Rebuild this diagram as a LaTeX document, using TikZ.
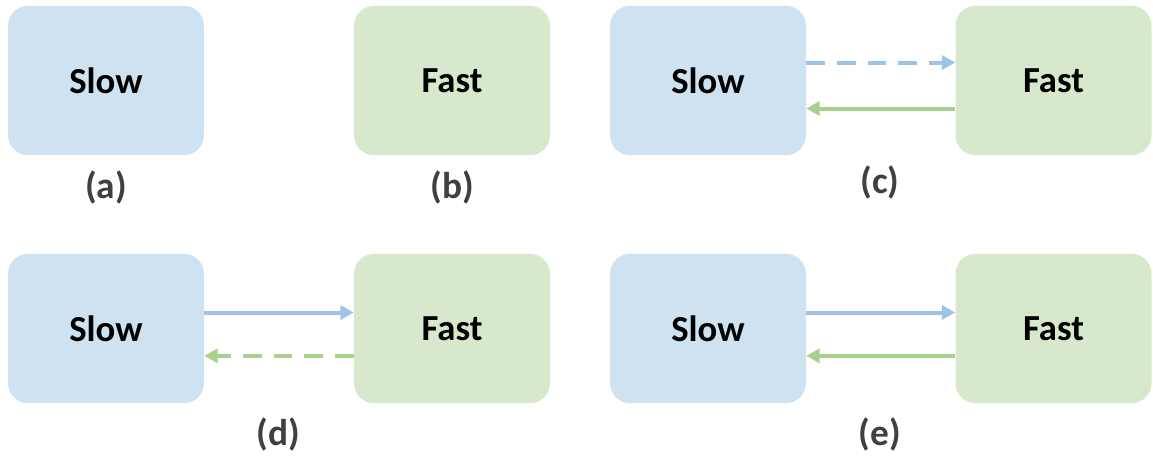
\documentclass[tikz,border=0pt]{standalone}
\usepackage{fontspec}
\setmainfont{Carlito}
\usetikzlibrary{arrows.meta}
\definecolor{cslow}{RGB}{207,226,242}
\definecolor{cfast}{RGB}{215,232,204}
\definecolor{cslowline}{RGB}{157,195,230}
\definecolor{cfastline}{RGB}{169,209,142}
\definecolor{clabel}{RGB}{64,64,64}

\begin{document}
\begin{tikzpicture}[x=0.75pt, y=-0.75pt,
    box/.style={rounded corners=15pt, minimum width=147pt, minimum height=112pt, inner sep=0pt, font=\fontsize{27.5}{32}\selectfont\bfseries},
    slowbox/.style={box, fill=cslow},
    fastbox/.style={box, fill=cfast},
    caption/.style={font=\fontsize{28}{32}\selectfont\bfseries, text=clabel},
    link/.style={line width=3pt, -{Triangle[length=10pt, width=10.5pt]}},
    weak/.style={link, dash pattern=on 14pt off 9pt}]

  \useasboundingbox (0, 0) rectangle (1153, 455);

  % (a) and (b)
  \node [slowbox] (slowa) at (106, 80.5) {Slow};
  \node [caption] (capa) at (106, 187) {(a)};
  \node [fastbox] (fastb) at (452, 80.5) {Fast};
  \node [caption] (capb) at (452, 187) {(b)};

  % (c)
  \node [slowbox] (slowc) at (708, 80.5) {Slow};
  \node [fastbox] (fastc) at (1053.5, 80.5) {Fast};
  \node [caption] (capc) at (880, 182) {(c)};
  \draw [weak, cslowline] ([yshift=13.5pt]slowc.east) -- ([yshift=13.5pt]fastc.west);
  \draw [link, cfastline] ([yshift=-21pt]fastc.west) -- ([yshift=-21pt]slowc.east);

  % (d)
  \node [slowbox] (slowd) at (106, 328.5) {Slow};
  \node [fastbox] (fastd) at (452, 328.5) {Fast};
  \node [caption] (capd) at (278, 434) {(d)};
  \draw [link, cslowline] ([yshift=12pt]slowd.east) -- ([yshift=12pt]fastd.west);
  \draw [weak, cfastline] ([yshift=-20.5pt]fastd.west) -- ([yshift=-20.5pt]slowd.east);

  % (e)
  \node [slowbox] (slowe) at (708, 328.5) {Slow};
  \node [fastbox] (faste) at (1053.5, 328.5) {Fast};
  \node [caption] (cape) at (880, 434) {(e)};
  \draw [link, cslowline] ([yshift=12pt]slowe.east) -- ([yshift=12pt]faste.west);
  \draw [link, cfastline] ([yshift=-20.5pt]faste.west) -- ([yshift=-20.5pt]slowe.east);

\end{tikzpicture}
\end{document}
